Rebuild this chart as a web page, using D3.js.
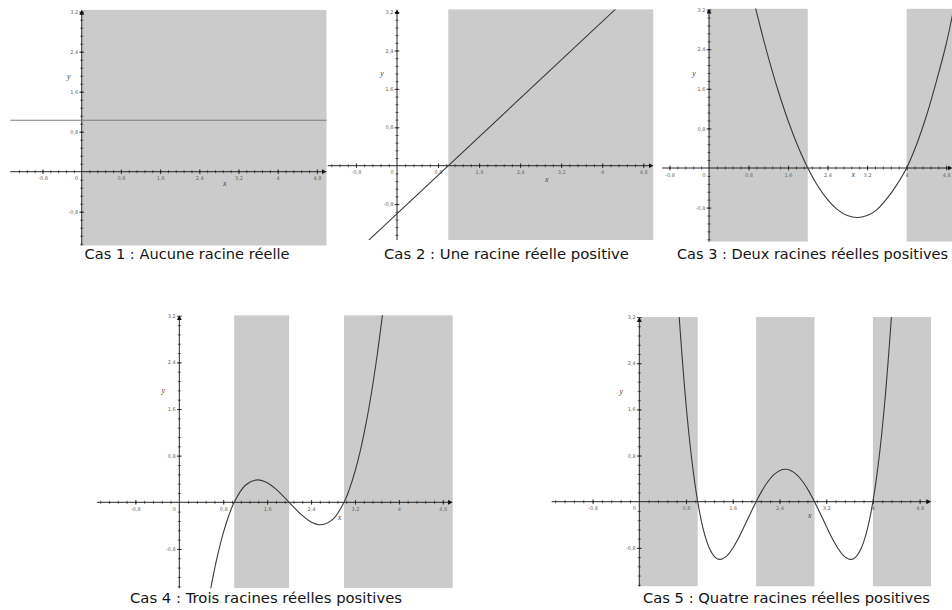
<!DOCTYPE html>
<html lang="fr">
<head>
<meta charset="utf-8">
<script src="https://cdn.jsdelivr.net/npm/d3@7"></script>
<style>
  html, body { margin: 0; padding: 0; background: #fff; }
  svg { display: block; }
</style>
</head>
<body>
<svg id="fig" width="952" height="610"></svg>
<script>
// Captions of the five cases
const captions = [
  "Cas 1 : Aucune racine réelle",
  "Cas 2 : Une racine réelle positive",
  "Cas 3 : Deux racines réelles positives",
  "Cas 4 : Trois racines réelles positives",
  "Cas 5 : Quatre racines réelles positives"
];

// Shaded x-intervals (where the function is positive for x >= 0)
const bandsCase1 = [[0, 5]];
const bandsCase2 = [[1, 5]];
const bandsCase3 = [[0, 2], [4, 5]];
const bandsCase4 = [[1, 2], [3, 5]];
const bandsCase5 = [[0, 1], [2, 3], [4, 5]];

// Curve points [x, y]
const curveCase1 = [[-1.46, 1.03], [5.0, 1.03]];
const curveCase2 = [[-0.55, -1.55], [4.26, 3.26]];
const curveCase3 = [
  [0.9, 3.41], [1.0, 3.0], [1.2, 2.24], [1.4, 1.56], [1.6, 0.96], [1.8, 0.44],
  [2.0, 0], [2.2, -0.36], [2.4, -0.64], [2.6, -0.84], [2.8, -0.96], [3.0, -1.0],
  [3.2, -0.96], [3.4, -0.84], [3.6, -0.62], [3.8, -0.34], [4.0, 0], [4.2, 0.47],
  [4.4, 1.05], [4.6, 1.74], [4.8, 2.5], [4.95, 3.2]
];
const curveCase4 = [
  [0.54, -1.65], [0.6, -1.344], [0.7, -0.897], [0.8, -0.528], [0.9, -0.231], [1.0, 0],
  [1.2, 0.288], [1.42, 0.385], [1.6, 0.336], [1.8, 0.192], [2.0, 0], [2.2, -0.192],
  [2.4, -0.336], [2.58, -0.385], [2.8, -0.288], [3.0, 0], [3.1, 0.231], [3.2, 0.528],
  [3.3, 0.897], [3.4, 1.344], [3.5, 1.875], [3.6, 2.496], [3.7, 3.213], [3.74, 3.52]
];
const curveCase5 = [
  [0.66, 3.56], [0.7, 2.96], [0.8, 1.69], [0.9, 0.716], [1.0, 0], [1.1, -0.496],
  [1.2, -0.806], [1.3, -0.964], [1.38, -1.0], [1.5, -0.938], [1.6, -0.806], [1.7, -0.628],
  [1.8, -0.422], [1.9, -0.208], [2.0, 0], [2.1, 0.188], [2.2, 0.346], [2.3, 0.464],
  [2.4, 0.538], [2.5, 0.5625], [2.6, 0.538], [2.7, 0.464], [2.8, 0.346], [2.9, 0.188],
  [3.0, 0], [3.1, -0.208], [3.2, -0.422], [3.3, -0.628], [3.4, -0.806], [3.5, -0.938],
  [3.62, -1.0], [3.7, -0.964], [3.8, -0.806], [3.9, -0.496], [4.0, 0], [4.1, 0.716],
  [4.2, 1.69], [4.3, 2.96], [4.34, 3.56]
];

// Axis tick labels
const xTickValues = [-0.8, 0.8, 1.6, 2.4, 3.2, 4, 4.8];
const yTickValues = [-0.8, 0.8, 1.6, 2.4, 3.2];

const bands = [bandsCase1, bandsCase2, bandsCase3, bandsCase4, bandsCase5];
const curves = [curveCase1, curveCase2, curveCase3, curveCase4, curveCase5];

// Frame of each panel: origin, pixels per unit, visible domain, caption placement
const frames = [
  { ox: 81.7,  oy: 171.7, sx: 49.0, sy: 50.0, x: [-1.46, 5.0],  y: [-1.48, 3.24],  cap: [187, 259, 205], xl: 11, yl: -13, stroke: "#7a7a7a" },
  { ox: 397,   oy: 165.7, sx: 51.3, sy: 48.0, x: [-1.35, 5.0],  y: [-1.55, 3.26],  cap: [506.5, 259, 245], xl: 13, yl: -15, stroke: "#3a3a3a" },
  { ox: 709,   oy: 168,   sx: 49.4, sy: 49.5, x: [-0.95, 4.93], y: [-1.49, 3.22],  cap: [812.5, 259, 271], xl: 6,  yl: -15, stroke: "#3a3a3a" },
  { ox: 179.3, oy: 502.3, sx: 54.9, sy: 58.3, x: [-1.5, 4.98],  y: [-1.475, 3.21], cap: [266, 603, 272], xl: 15, yl: -16, stroke: "#3a3a3a" },
  { ox: 639.3, oy: 501.7, sx: 58.4, sy: 57.7, x: [-1.5, 5.0],   y: [-1.47, 3.2],   cap: [786.5, 603, 287], xl: 13, yl: -18, stroke: "#3a3a3a" }
];

const fr = d3.formatLocale({ decimal: ",", thousands: " ", grouping: [3], currency: ["", " €"], minus: "-" });
const fmt = fr.format("~g");

const svg = d3.select("#fig");
const defs = svg.append("defs");
defs.append("marker")
  .attr("id", "arrow")
  .attr("viewBox", "0 0 10 10")
  .attr("refX", 6).attr("refY", 5)
  .attr("markerWidth", 5).attr("markerHeight", 5)
  .attr("markerUnits", "userSpaceOnUse")
  .attr("orient", "auto")
  .append("path").attr("d", "M0,0 L10,5 L0,10 Z").attr("fill", "#111");

frames.forEach((f, i) => {
  const xs = d3.scaleLinear().domain(f.x).range([f.ox + f.sx * f.x[0], f.ox + f.sx * f.x[1]]);
  const ys = d3.scaleLinear().domain(f.y).range([f.oy - f.sy * f.y[0], f.oy - f.sy * f.y[1]]);
  const g = svg.append("g").attr("class", "panel");

  // clip region of the plotting area
  const clipId = "clip" + i;
  defs.append("clipPath").attr("id", clipId)
    .append("rect")
    .attr("x", xs(f.x[0])).attr("y", ys(f.y[1]))
    .attr("width", xs(f.x[1]) - xs(f.x[0]))
    .attr("height", ys(f.y[0]) - ys(f.y[1]));

  // shaded intervals
  g.append("g").attr("clip-path", `url(#${clipId})`)
    .selectAll("rect").data(bands[i]).join("rect")
    .attr("x", d => xs(d[0]))
    .attr("width", d => xs(d[1]) - xs(d[0]))
    .attr("y", ys(f.y[1]))
    .attr("height", ys(f.y[0]) - ys(f.y[1]))
    .attr("fill", "#cbcbcb");

  // minor ticks every 0.16
  const minorX = d3.range(-12, 32).map(k => +(k * 0.16).toFixed(2))
    .filter(v => v > f.x[0] + 0.02 && v < f.x[1] - 0.08 && v !== 0);
  const minorY = d3.range(-12, 32).map(k => +(k * 0.16).toFixed(2))
    .filter(v => v > f.y[0] + 0.02 && v < f.y[1] - 0.04 && v !== 0);

  // x axis
  const xAxisMinor = g.append("g").attr("transform", `translate(0,${ys(0)})`)
    .call(d3.axisBottom(xs).tickValues(minorX).tickSize(1.6).tickFormat(""));
  xAxisMinor.select(".domain").remove();
  xAxisMinor.selectAll(".tick line").attr("y1", -1.6).attr("stroke", "#333").attr("stroke-width", 0.7);

  const xAxis = g.append("g").attr("transform", `translate(0,${ys(0)})`)
    .call(d3.axisBottom(xs).tickValues(xTickValues.filter(v => v < f.x[1])).tickSize(2.4).tickFormat(fmt));
  xAxis.select(".domain").remove();
  xAxis.selectAll(".tick line").attr("y1", -2.4).attr("stroke", "#222").attr("stroke-width", 0.8);
  xAxis.selectAll(".tick text")
    .attr("y", 5).attr("dy", "0.71em")
    .attr("font-family", "DejaVu Sans, sans-serif").attr("font-size", 5)
    .attr("fill", "#666");

  // y axis
  const yAxisMinor = g.append("g").attr("transform", `translate(${xs(0)},0)`)
    .call(d3.axisLeft(ys).tickValues(minorY).tickSize(1.6).tickFormat(""));
  yAxisMinor.select(".domain").remove();
  yAxisMinor.selectAll(".tick line").attr("x1", 1.6).attr("stroke", "#333").attr("stroke-width", 0.7);

  const yAxis = g.append("g").attr("transform", `translate(${xs(0)},0)`)
    .call(d3.axisLeft(ys).tickValues(yTickValues.filter(v => v <= f.y[1])).tickSize(2.4).tickFormat(fmt));
  yAxis.select(".domain").remove();
  yAxis.selectAll(".tick line").attr("x1", 2.4).attr("stroke", "#222").attr("stroke-width", 0.8);
  yAxis.selectAll(".tick text")
    .attr("x", -3.5)
    .attr("font-family", "DejaVu Sans, sans-serif").attr("font-size", 5)
    .attr("fill", "#666");

  // origin label
  g.append("text")
    .attr("x", xs(0) - 5).attr("y", ys(0) + 5).attr("dy", "0.71em")
    .attr("text-anchor", "middle")
    .attr("font-family", "DejaVu Sans, sans-serif").attr("font-size", 5)
    .attr("fill", "#666").text("0");

  // axis lines with arrowheads
  g.append("line")
    .attr("x1", xs(f.x[0])).attr("x2", xs(f.x[1]) - 2)
    .attr("y1", ys(0)).attr("y2", ys(0))
    .attr("stroke", "#111").attr("stroke-width", 0.9)
    .attr("marker-end", "url(#arrow)");
  g.append("line")
    .attr("x1", xs(0)).attr("x2", xs(0))
    .attr("y1", ys(f.y[0])).attr("y2", ys(f.y[1]) + 2)
    .attr("stroke", "#111").attr("stroke-width", 0.9)
    .attr("marker-end", "url(#arrow)");

  // axis names
  g.append("text")
    .attr("x", xs(2.92)).attr("y", ys(0) + f.xl).attr("dy", "0.35em")
    .attr("text-anchor", "middle")
    .attr("font-family", "Liberation Serif, serif").attr("font-style", "italic")
    .attr("font-size", 8).attr("fill", "#444").text("x");
  g.append("text")
    .attr("x", xs(0) + f.yl).attr("y", ys(1.92)).attr("dy", "0.35em")
    .attr("text-anchor", "middle")
    .attr("font-family", "Liberation Serif, serif").attr("font-style", "italic")
    .attr("font-size", 8).attr("fill", "#444").text("y");

  // function graph
  const line = d3.line()
    .x(d => xs(d[0])).y(d => ys(d[1]))
    .curve(curves[i].length > 2 ? d3.curveCatmullRom.alpha(0.5) : d3.curveLinear);
  g.append("path")
    .attr("clip-path", `url(#${clipId})`)
    .attr("d", line(curves[i]))
    .attr("fill", "none")
    .attr("stroke", f.stroke)
    .attr("stroke-width", 1.1);

  // caption
  g.append("text")
    .attr("x", f.cap[0]).attr("y", f.cap[1])
    .attr("text-anchor", "middle")
    .attr("font-family", "DejaVu Sans, sans-serif")
    .attr("font-size", 13.5)
    .attr("fill", "#141414")
    .attr("textLength", f.cap[2])
    .attr("lengthAdjust", "spacingAndGlyphs")
    .text(captions[i]);
});
</script>
</body>
</html>
